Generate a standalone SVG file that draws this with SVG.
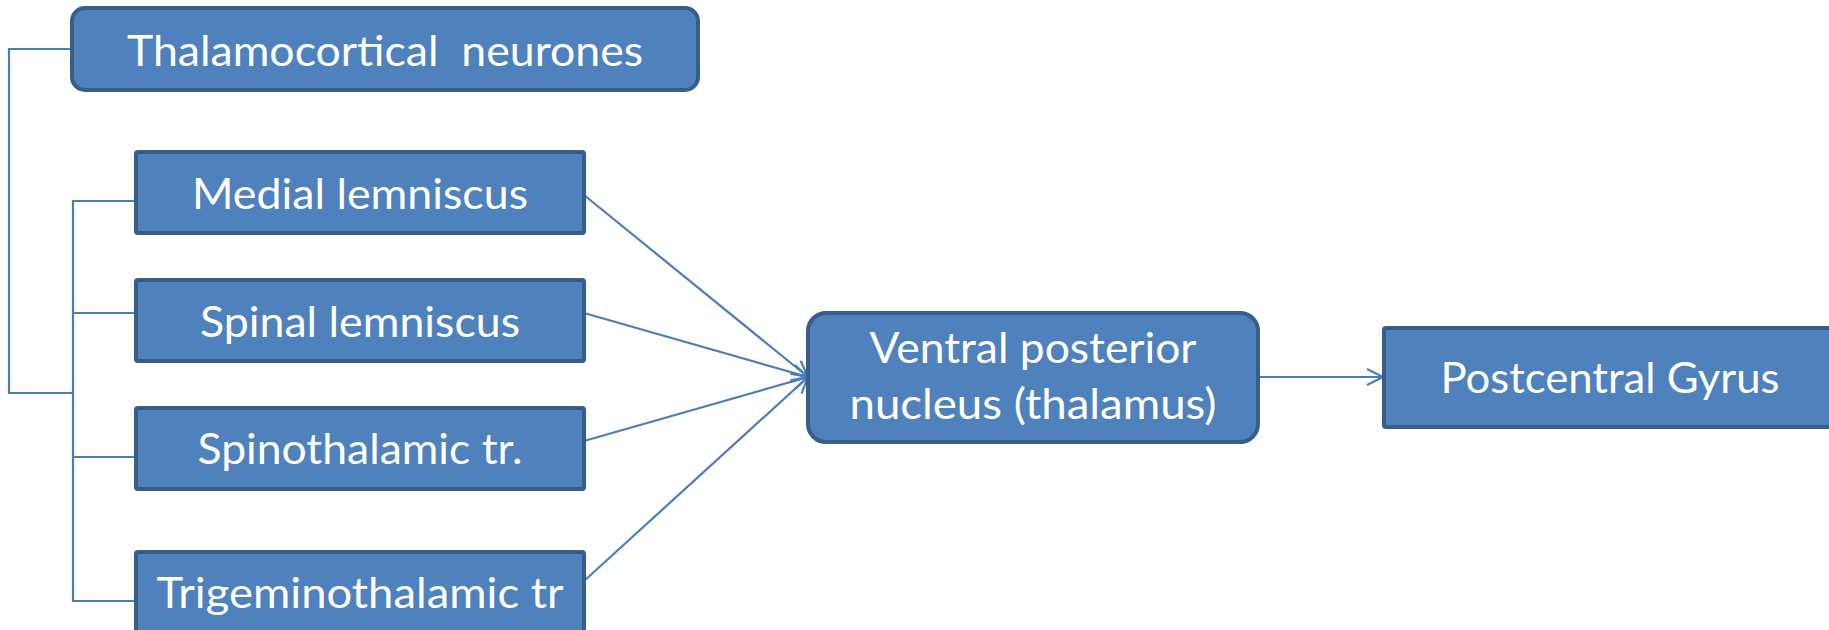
<svg xmlns="http://www.w3.org/2000/svg" width="1829" height="630" viewBox="0 0 1829 630">
<style>
.box{fill:#4f81bd;stroke:#385d8a;stroke-width:4}
.lbl{font-family:Lato,"Open Sans","Liberation Sans",sans-serif;font-size:42px;fill:#ffffff;text-anchor:middle;white-space:pre}
.con{fill:none;stroke:#4a7ebb;stroke-width:2.2}
</style>
<defs>
<marker id="arr" markerUnits="userSpaceOnUse" markerWidth="20" markerHeight="20" refX="17" refY="9" orient="auto">
<path d="M1,1 L17,9 L1,17" fill="none" stroke="#4a7ebb" stroke-width="2.2"/>
</marker>
</defs>
<g id="connectors">
<path class="con" d="M72,49 H9 V393 H73"/>
<path class="con" d="M136,201 H73 V601 H136"/>
<path class="con" d="M73,313 H136"/>
<path class="con" d="M73,457 H136"/>
<line class="con" x1="584" y1="195" x2="808" y2="377" marker-end="url(#arr)"/>
<line class="con" x1="584" y1="313" x2="808" y2="377" marker-end="url(#arr)"/>
<line class="con" x1="584" y1="441" x2="808" y2="377" marker-end="url(#arr)"/>
<line class="con" x1="584" y1="581" x2="808" y2="377" marker-end="url(#arr)"/>
<line class="con" x1="1258" y1="377" x2="1383" y2="377" marker-end="url(#arr)"/>
</g>
<g id="thalamocortical">
<rect class="box" x="72" y="8" width="626" height="82" rx="13"/>
<text class="lbl" x="385" y="66" textLength="516" lengthAdjust="spacingAndGlyphs" xml:space="preserve">Thalamocortical  neurones</text>
</g>
<g id="medial">
<rect class="box" x="136" y="152" width="448" height="81" rx="2"/>
<text class="lbl" x="360" y="209" textLength="336" lengthAdjust="spacingAndGlyphs">Medial lemniscus</text>
</g>
<g id="spinal">
<rect class="box" x="136" y="280" width="448" height="81" rx="2"/>
<text class="lbl" x="360" y="337" textLength="320" lengthAdjust="spacingAndGlyphs">Spinal lemniscus</text>
</g>
<g id="spinothalamic">
<rect class="box" x="136" y="408" width="448" height="81" rx="2"/>
<text class="lbl" x="360" y="464" textLength="325" lengthAdjust="spacingAndGlyphs">Spinothalamic tr.</text>
</g>
<g id="trigeminothalamic">
<rect class="box" x="136" y="552" width="448" height="81" rx="2"/>
<text class="lbl" x="360" y="608" textLength="407" lengthAdjust="spacingAndGlyphs">Trigeminothalamic tr</text>
</g>
<g id="ventral">
<rect class="box" x="808" y="313" width="450" height="129" rx="18"/>
<text class="lbl" x="1033" y="363" textLength="327" lengthAdjust="spacingAndGlyphs">Ventral posterior</text>
<text class="lbl" x="1033" y="419" textLength="367" lengthAdjust="spacingAndGlyphs">nucleus (thalamus)</text>
</g>
<g id="postcentral">
<rect class="box" x="1384" y="328" width="460" height="99" rx="2"/>
<text class="lbl" x="1610" y="393" textLength="339" lengthAdjust="spacingAndGlyphs">Postcentral Gyrus</text>
</g>
</svg>
